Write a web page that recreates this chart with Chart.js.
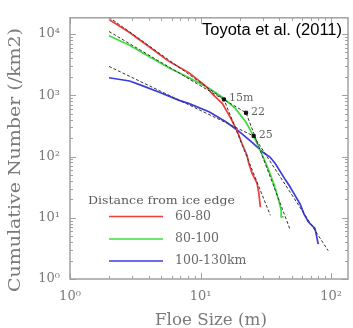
<!DOCTYPE html>
<html><head><meta charset="utf-8">
<script src="https://cdn.jsdelivr.net/npm/chart.js@4.4.0/dist/chart.umd.min.js"></script>
<style>html,body{margin:0;padding:0;background:#fff;}canvas{display:block;}</style>
</head><body>
<canvas id="c" width="353" height="328"></canvas>
<script>
// ---- data ----
const redX = [1.99, 2.86, 4.06, 5.76, 8.18, 10.9, 12.3, 14.7, 17.0, 19.1, 20.8, 22.7, 23.4, 24.8, 27.0, 27.9, 28.7];
const redY = [17200, 10600, 6150, 3550, 2320, 1430, 1050, 730, 423, 259, 160, 104, 77, 53, 37, 25.7, 14.9];
const greenX = [1.99, 2.86, 4.06, 5.76, 8.18, 11.6, 14.7, 18.5, 22.1, 25.5, 28.7, 31.3, 33.2, 36.2, 39.5, 41.4, 41.4, 43.2];
const greenY = [9400, 6530, 4260, 2780, 1930, 1300, 930, 605, 372, 216, 125, 82, 60, 37, 20, 13.2, 10.3, 10.3];
const blueX = [1.99, 2.86, 3.61, 4.83, 6.86, 8.18, 11.6, 15.5, 19.6, 24.8, 30.4, 34.0, 37.3, 44.5, 48.0, 51.4, 57.8, 62.0, 66.8, 75.2, 79.6];
const blueY = [1930, 1710, 1425, 1117, 825, 730, 538, 373, 259, 170, 115, 98, 77, 42, 33, 25.7, 16.8, 11.5, 8.6, 6.7, 3.7];
const redFitX = [1.99, 15.1, 34.2];
const redFitY = [18800, 855, 11];
const greenFitX = [1.99, 22.3, 48.5];
const greenFitY = [11000, 518, 6.4];
const blueFitX = [1.99, 25.5, 94.9];
const blueFitY = [2960, 216, 2.9];
const breakX = [15.1, 22.3, 25.5];
const breakY = [855, 518, 216];
const breakLabels = ['15m', '22', '25'];
const seriesNames = ['60-80', '80-100', '100-130km'];
const legendTitle = 'Distance from ice edge';
const sourceNote = 'Toyota et al. (2011)';
const xTitle = 'Floe Size (m)';
const yTitle = 'Cumulative Number (/km2)';
const xTickValues = [1, 10, 100];
const xTickLabels = ['10\u2070', '10\u00b9', '10\u00b2'];
const yTickValues = [1, 10, 100, 1000, 10000];
const yTickLabels = ['10\u2070', '10\u00b9', '10\u00b2', '10\u00b3', '10\u2074'];

const colors = ['#ee3e3e', '#3fdc3f', '#3c3cdc'];
const pts = (xs, ys) => xs.map((x, i) => ({x: x, y: ys[i]}));
const SERIF = '"DejaVu Serif", serif';
const GRAY = '#7a7a7a';

function fitText(ctx, text, x, y, w, font, align) {
  ctx.save();
  ctx.font = font;
  const m = ctx.measureText(text).width;
  const s = w / m;
  ctx.translate(x, y);
  ctx.scale(s, 1);
  ctx.textAlign = align;
  ctx.textBaseline = 'middle';
  ctx.fillText(text, 0, 0);
  ctx.restore();
}

const framePlugin = {
  id: 'frame',
  afterDatasetsDraw(chart) {
    const {ctx, chartArea: a, scales} = chart;
    ctx.save();
    ctx.strokeStyle = '#a0a0a0';
    ctx.lineWidth = 1.5;
    ctx.strokeRect(a.left, a.top, a.right - a.left, a.bottom - a.top);
    ctx.lineWidth = 1;
    ctx.beginPath();
    const xs = scales.x, ys = scales.y;
    for (let d = 0; d <= 2; d++) {
      for (let m = 1; m <= 9; m++) {
        const v = m * Math.pow(10, d);
        if (v < xs.min || v > xs.max) continue;
        const px = Math.round(xs.getPixelForValue(v)) + 0.5;
        const L = m === 1 ? 6 : 3;
        ctx.moveTo(px, a.bottom); ctx.lineTo(px, a.bottom - L);
        ctx.moveTo(px, a.top); ctx.lineTo(px, a.top + L);
      }
    }
    for (let d = 0; d <= 4; d++) {
      for (let m = 1; m <= 9; m++) {
        const v = m * Math.pow(10, d);
        if (v < ys.min || v > ys.max) continue;
        const py = Math.round(ys.getPixelForValue(v)) + 0.5;
        const L = m === 1 ? 6 : 3;
        ctx.moveTo(a.left, py); ctx.lineTo(a.left + L, py);
        ctx.moveTo(a.right, py); ctx.lineTo(a.right - L, py);
      }
    }
    ctx.stroke();
    ctx.restore();
  }
};

const textPlugin = {
  id: 'texts',
  afterDraw(chart) {
    const {ctx, scales} = chart;
    ctx.save();
    ctx.fillStyle = '#000';
    fitText(ctx, sourceNote, 342, 31, 140, '16px "Liberation Sans", sans-serif', 'right');
    ctx.fillStyle = GRAY;
    fitText(ctx, xTitle, 211, 321, 112, '16px ' + SERIF, 'center');
    ctx.save();
    ctx.translate(16, 160);
    ctx.rotate(-Math.PI / 2);
    fitText(ctx, yTitle, 0, 0, 264, '16px ' + SERIF, 'center');
    ctx.restore();
    // breakpoint labels
    ctx.fillStyle = '#666';
    ctx.font = '11px ' + SERIF;
    ctx.textAlign = 'left';
    ctx.textBaseline = 'middle';
    breakX.forEach((v, i) => {
      const px = scales.x.getPixelForValue(v);
      const py = scales.y.getPixelForValue(breakY[i]);
      ctx.fillText(breakLabels[i], px + 5, py - 1);
    });
    // legend
    ctx.fillStyle = '#5a5a5a';
    fitText(ctx, legendTitle, 88, 201, 147, '11px ' + SERIF, 'left');
    const ly = [216.5, 239, 261];
    seriesNames.forEach((n, i) => {
      ctx.strokeStyle = colors[i];
      ctx.lineWidth = 1.6;
      ctx.beginPath();
      ctx.moveTo(109, ly[i]); ctx.lineTo(163, ly[i]);
      ctx.stroke();
      ctx.font = '12.5px ' + SERIF;
      ctx.fillStyle = '#6a6a6a';
      ctx.textAlign = 'left';
      ctx.textBaseline = 'middle';
      ctx.fillText(n, 175, ly[i]);
    });
    ctx.restore();
  }
};

const fitStyle = {showLine: true, borderColor: '#333', borderWidth: 1, borderDash: [3, 2], pointRadius: 0, fill: false};
const curveStyle = (c) => ({showLine: true, borderColor: c, borderWidth: 1.7, pointRadius: 0, fill: false});

new Chart(document.getElementById('c'), {
  type: 'scatter',
  data: {
    datasets: [
      {data: pts(breakX, breakY), pointStyle: 'rect', pointRadius: 2.2, backgroundColor: '#111', borderColor: '#111', showLine: false},
      Object.assign({data: pts(redFitX, redFitY)}, fitStyle),
      Object.assign({data: pts(greenFitX, greenFitY)}, fitStyle),
      Object.assign({data: pts(blueFitX, blueFitY)}, fitStyle),
      Object.assign({data: pts(redX, redY), label: seriesNames[0]}, curveStyle(colors[0])),
      Object.assign({data: pts(greenX, greenY), label: seriesNames[1]}, curveStyle(colors[1])),
      Object.assign({data: pts(blueX, blueY), label: seriesNames[2]}, curveStyle(colors[2]))
    ]
  },
  options: {
    responsive: false,
    animation: false,
    layout: {padding: {top: 9, right: 3, left: 0, bottom: 0}},
    plugins: {legend: {display: false}, tooltip: {enabled: false}},
    scales: {
      x: {
        type: 'logarithmic', min: 1, max: 134.6,
        grid: {display: false, drawTicks: false, tickLength: 0},
        border: {display: false},
        afterBuildTicks: (s) => { s.ticks = xTickValues.map(v => ({value: v})); },
        afterFit: (s) => { s.height = 49; },
        ticks: {autoSkip: false, maxRotation: 0, padding: 10, color: GRAY,
                font: {family: SERIF, size: 13},
                callback: (v, i) => xTickLabels[i]}
      },
      y: {
        type: 'logarithmic', min: 1, max: 18400,
        grid: {display: false, drawTicks: false, tickLength: 0},
        border: {display: false},
        afterBuildTicks: (s) => { s.ticks = yTickValues.map(v => ({value: v})); },
        afterFit: (s) => { s.width = 70; },
        ticks: {autoSkip: false, padding: 10, color: GRAY,
                font: {family: SERIF, size: 13},
                callback: (v, i) => yTickLabels[i]}
      }
    }
  },
  plugins: [framePlugin, textPlugin]
});
</script>
</body></html>
